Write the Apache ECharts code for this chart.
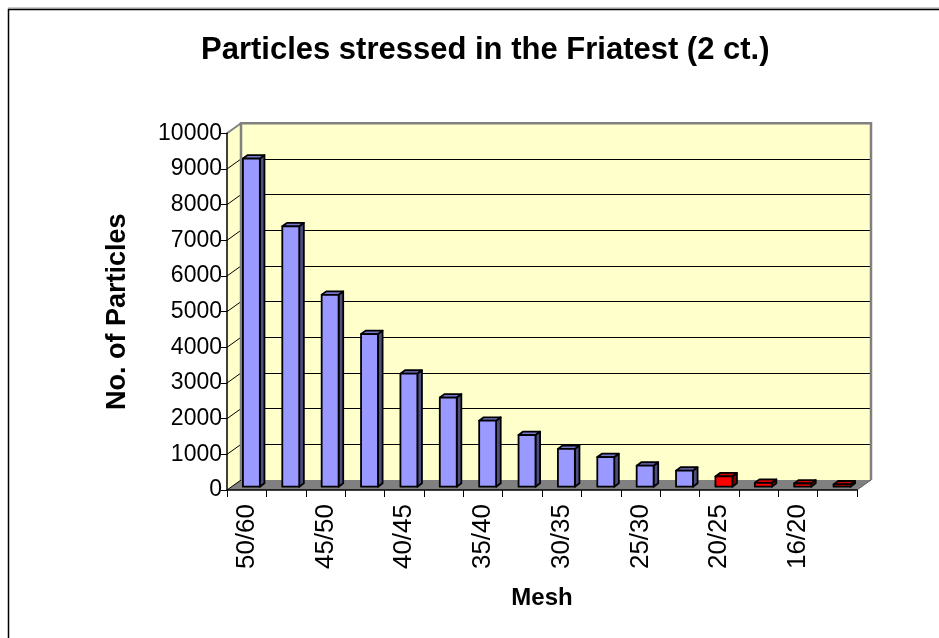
<!DOCTYPE html>
<html><head><meta charset="utf-8">
<script src="https://cdn.jsdelivr.net/npm/echarts@6/dist/echarts.min.js"></script>
<style>html,body{margin:0;padding:0;background:#fff}#c{width:939px;height:638px}</style>
</head><body><div id="c"></div>
<script>
// ---- data ----
const categories = ['50/60','47/50','45/50','42/45','40/45','37/40','35/40','32/35','30/35','27/30','25/30','22/25','20/25','18/20','16/20','14/16'];
const particles  = [9200, 7300, 5380, 4280, 3170, 2500, 1850, 1450, 1060, 830, 590, 450, 290, 110, 90, 65];
const yTicks     = [0,1000,2000,3000,4000,5000,6000,7000,8000,9000,10000];
const FIRST_SMALL = 12; // from 20/25 on, bars drawn red
const titleText = 'Particles stressed in the Friatest (2 ct.)';
const xName = 'Mesh';
const yName = 'No. of Particles';

// ---- style / geometry ----
const FONT = 'Liberation Sans, Arial, sans-serif';
const DX = 14, DY = -10;            // depth of 3D box
const BAR_OFF_X = 4.7, BAR_OFF_Y = -3.3; // bar front plane
const BD_X = 4.6, BD_Y = -3.4;     // bar depth
const BAR_FRAC = 0.43;
const BLUE = {front:'#9999FF', top:'#7777CC', side:'#4D4D80'};
const RED  = {front:'#FF0000', top:'#CC0000', side:'#800000'};
const GRID = {left:227, top:133.3, width:630, height:356.7};

function renderScene(params, api){
  if (params.dataIndex !== 0) return null;
  const cs = params.coordSys;
  const x0 = cs.x, y0 = cs.y, x1 = cs.x + cs.width, y1 = cs.y + cs.height;
  const ch = [];
  ch.push({type:'polygon', shape:{points:[[x0,y0],[x0+DX,y0+DY],[x0+DX,y1+DY],[x0,y1]]}, style:{fill:'#FFFFCC'}});
  ch.push({type:'polygon', shape:{points:[[x0,y1],[x1,y1],[x1+DX,y1+DY],[x0+DX,y1+DY]]}, style:{fill:'#808080'}});
  const maxT = yTicks[yTicks.length-1];
  yTicks.forEach(v => {
    const y = api.coord([0, v])[1];
    ch.push({type:'line', shape:{x1:x0, y1:y, x2:x0+DX, y2:y+DY},
      style:{stroke: v === maxT ? '#808080' : '#000', lineWidth: v === maxT ? 2 : 1}});
  });
  ch.push({type:'polyline', shape:{points:[[x0+DX,y1+DY],[x0+DX,y0+DY],[x1+DX,y0+DY],[x1+DX,y1+DY]]},
    style:{stroke:'#808080', lineWidth:2.5, fill:null}});
  ch.push({type:'line', shape:{x1:x1, y1:y1, x2:x1+DX, y2:y1+DY}, style:{stroke:'#606060', lineWidth:1}});
  return {type:'group', children: ch};
}

function renderBar(params, api){
  const i = api.value(0), v = api.value(1);
  const base = api.coord([i, 0]), tp = api.coord([i, v]);
  const bw = api.size([1, 0])[0];
  const w = bw * BAR_FRAC;
  const L = base[0] - w/2 + BAR_OFF_X, R = L + w;
  const B = base[1] + BAR_OFF_Y, T = tp[1] + BAR_OFF_Y;
  const c = i >= FIRST_SMALL ? RED : BLUE;
  const st = {stroke:'#000', lineWidth:1.8, lineJoin:'round'};
  return {type:'group', children:[
    {type:'polygon', shape:{points:[[R,T],[R+BD_X,T+BD_Y],[R+BD_X,B+BD_Y],[R,B]]}, style:Object.assign({fill:c.side}, st)},
    {type:'polygon', shape:{points:[[L,T],[R,T],[R+BD_X,T+BD_Y],[L+BD_X,T+BD_Y]]}, style:Object.assign({fill:c.top}, st)},
    {type:'rect', shape:{x:L, y:T, width:w, height:B-T}, style:Object.assign({fill:c.front}, st)}
  ]};
}

const chart = echarts.init(document.getElementById('c'), null, {renderer:'canvas'});
chart.setOption({
  animation:false,
  backgroundColor:'#fff',
  title:{text:titleText, left:196, top:30,
    textStyle:{fontFamily:FONT, fontSize:31, fontWeight:'bold', color:'#000'}},
  graphic:[
    {type:'line', shape:{x1:8, y1:8, x2:960, y2:8}, style:{stroke:'#999', lineWidth:1}, z:10},
    {type:'rect', shape:{x:8.5, y:9.5, width:960, height:700}, style:{fill:null, stroke:'#000', lineWidth:1.5}, z:10}
  ],
  grid:[
    Object.assign({outerBoundsMode:'none', containLabel:false}, GRID),
    {left:GRID.left+DX, top:GRID.top+DY, width:GRID.width, height:GRID.height,
     outerBoundsMode:'none', containLabel:false, show:true, backgroundColor:'#FFFFCC', borderWidth:0}
  ],
  xAxis:[
    {type:'category', gridIndex:0, data:categories, z:6,
     name:xName, nameLocation:'middle', nameGap:96,
     nameTextStyle:{fontFamily:FONT, fontSize:24, fontWeight:'bold', color:'#000'},
     axisLine:{lineStyle:{color:'#000', width:1.5}},
     axisTick:{show:true, interval:0, length:7, lineStyle:{color:'#000', width:1}},
     axisLabel:{interval:1, rotate:90, margin:14, fontFamily:FONT, fontSize:26, color:'#000'},
     splitLine:{show:false}},
    {type:'category', gridIndex:1, data:categories, show:false}
  ],
  yAxis:[
    {type:'value', gridIndex:0, min:0, max:10000, interval:1000, z:6,
     name:yName, nameLocation:'middle', nameGap:96, nameRotate:90,
     nameTextStyle:{fontFamily:FONT, fontSize:27, fontWeight:'bold', color:'#000'},
     axisLine:{show:true, lineStyle:{color:'#000', width:1.5}},
     axisTick:{show:true, length:6, lineStyle:{color:'#000', width:1}},
     axisLabel:{margin:5, fontFamily:FONT, fontSize:23, color:'#000', formatter:v => String(v)},
     splitLine:{show:false}},
    {type:'value', gridIndex:1, min:0, max:10000, interval:1000, z:1,
     axisLine:{show:false}, axisTick:{show:false}, axisLabel:{show:false},
     splitLine:{show:true, lineStyle:{color:'#000', width:1}}}
  ],
  series:[
    {type:'custom', name:'scene', xAxisIndex:0, yAxisIndex:0, z:2, silent:true,
     renderItem:renderScene, data:[[0,0]]},
    {type:'custom', name:'Particles', xAxisIndex:0, yAxisIndex:0, z:3,
     renderItem:renderBar, encode:{x:0, y:1},
     data:particles.map((v,i)=>[i, v])}
  ]
});
</script></body></html>
